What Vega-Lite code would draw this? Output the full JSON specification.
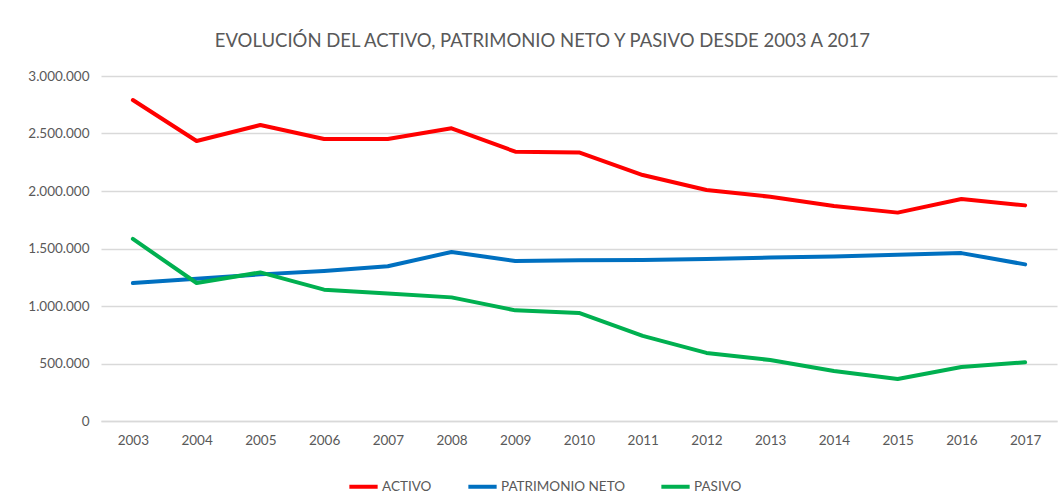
{
  "$schema": "https://vega.github.io/schema/vega-lite/v6.json",
  "autosize": "none",
  "width": 956,
  "height": 345,
  "padding": {"top": 76, "left": 101, "right": 7, "bottom": 76},
  "background": "white",
  "config": {
    "font": "Lato",
    "locale": {"number": {"decimal": ",", "thousands": ".", "grouping": [3], "currency": ["€", ""]}},
    "view": {"stroke": null}
  },
  "title": {
    "text": "EVOLUCIÓN DEL ACTIVO, PATRIMONIO NETO Y PASIVO DESDE 2003 A 2017",
    "frame": "bounds",
    "anchor": "middle",
    "fontSize": 18.5,
    "fontWeight": "normal",
    "color": "#595959",
    "offset": 19
  },
  "data": {
    "values": [
      {"year": "2003", "serie": "ACTIVO", "valor": 2791000},
      {"year": "2004", "serie": "ACTIVO", "valor": 2435000},
      {"year": "2005", "serie": "ACTIVO", "valor": 2574000},
      {"year": "2006", "serie": "ACTIVO", "valor": 2452000},
      {"year": "2007", "serie": "ACTIVO", "valor": 2452000},
      {"year": "2008", "serie": "ACTIVO", "valor": 2545000},
      {"year": "2009", "serie": "ACTIVO", "valor": 2342000},
      {"year": "2010", "serie": "ACTIVO", "valor": 2335000},
      {"year": "2011", "serie": "ACTIVO", "valor": 2139000},
      {"year": "2012", "serie": "ACTIVO", "valor": 2009000},
      {"year": "2013", "serie": "ACTIVO", "valor": 1950000},
      {"year": "2014", "serie": "ACTIVO", "valor": 1870000},
      {"year": "2015", "serie": "ACTIVO", "valor": 1812000},
      {"year": "2016", "serie": "ACTIVO", "valor": 1930000},
      {"year": "2017", "serie": "ACTIVO", "valor": 1875000},
      {"year": "2003", "serie": "PATRIMONIO NETO", "valor": 1200000},
      {"year": "2004", "serie": "PATRIMONIO NETO", "valor": 1238000},
      {"year": "2005", "serie": "PATRIMONIO NETO", "valor": 1275000},
      {"year": "2006", "serie": "PATRIMONIO NETO", "valor": 1305000},
      {"year": "2007", "serie": "PATRIMONIO NETO", "valor": 1345000},
      {"year": "2008", "serie": "PATRIMONIO NETO", "valor": 1470000},
      {"year": "2009", "serie": "PATRIMONIO NETO", "valor": 1392000},
      {"year": "2010", "serie": "PATRIMONIO NETO", "valor": 1398000},
      {"year": "2011", "serie": "PATRIMONIO NETO", "valor": 1400000},
      {"year": "2012", "serie": "PATRIMONIO NETO", "valor": 1408000},
      {"year": "2013", "serie": "PATRIMONIO NETO", "valor": 1422000},
      {"year": "2014", "serie": "PATRIMONIO NETO", "valor": 1430000},
      {"year": "2015", "serie": "PATRIMONIO NETO", "valor": 1445000},
      {"year": "2016", "serie": "PATRIMONIO NETO", "valor": 1460000},
      {"year": "2017", "serie": "PATRIMONIO NETO", "valor": 1362000},
      {"year": "2003", "serie": "PASIVO", "valor": 1583000},
      {"year": "2004", "serie": "PASIVO", "valor": 1200000},
      {"year": "2005", "serie": "PASIVO", "valor": 1292000},
      {"year": "2006", "serie": "PASIVO", "valor": 1142000},
      {"year": "2007", "serie": "PASIVO", "valor": 1108000},
      {"year": "2008", "serie": "PASIVO", "valor": 1075000},
      {"year": "2009", "serie": "PASIVO", "valor": 962000},
      {"year": "2010", "serie": "PASIVO", "valor": 940000},
      {"year": "2011", "serie": "PASIVO", "valor": 740000},
      {"year": "2012", "serie": "PASIVO", "valor": 592000},
      {"year": "2013", "serie": "PASIVO", "valor": 530000},
      {"year": "2014", "serie": "PASIVO", "valor": 435000},
      {"year": "2015", "serie": "PASIVO", "valor": 365000},
      {"year": "2016", "serie": "PASIVO", "valor": 470000},
      {"year": "2017", "serie": "PASIVO", "valor": 510000}
    ]
  },
  "mark": {"type": "line", "strokeWidth": 4, "strokeJoin": "round", "strokeCap": "round"},
  "encoding": {
    "x": {
      "field": "year",
      "type": "ordinal",
      "scale": {"type": "point", "padding": 0.5},
      "axis": {
        "title": null,
        "labelAngle": 0,
        "labelFontSize": 13.5,
        "labelColor": "#595959",
        "labelPadding": 12,
        "ticks": false,
        "domainColor": "#d9d9d9",
        "domainWidth": 1.5
      }
    },
    "y": {
      "field": "valor",
      "type": "quantitative",
      "scale": {"domain": [0, 3000000], "nice": false},
      "axis": {
        "title": null,
        "values": [0, 500000, 1000000, 1500000, 2000000, 2500000, 3000000],
        "format": ",d",
        "labelFontSize": 13.5,
        "labelColor": "#595959",
        "labelPadding": 12,
        "ticks": false,
        "domain": false,
        "gridColor": "#d9d9d9",
        "gridWidth": 1.5
      }
    },
    "color": {
      "field": "serie",
      "type": "nominal",
      "sort": ["ACTIVO", "PATRIMONIO NETO", "PASIVO"],
      "scale": {"domain": ["ACTIVO", "PATRIMONIO NETO", "PASIVO"], "range": ["#FF0000", "#0070C0", "#00B050"]},
      "legend": {
        "title": null,
        "orient": "none",
        "direction": "horizontal",
        "legendX": 246,
        "legendY": 394,
        "symbolType": "stroke",
        "symbolStrokeWidth": 4,
        "symbolSize": 800,
        "symbolOffset": 0,
        "labelOffset": 2,
        "columnPadding": 28,
        "labelFontSize": 13.5,
        "labelColor": "#595959"
      }
    }
  }
}
